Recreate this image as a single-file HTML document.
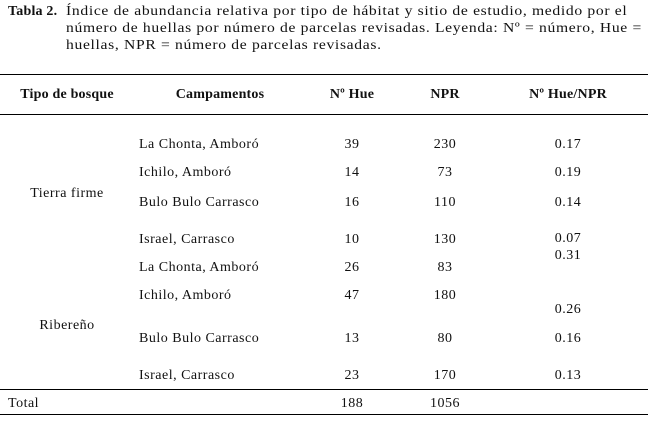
<!DOCTYPE html>
<html><head><meta charset="utf-8"><style>
body{margin:0;width:648px;height:423px;background:#fff;position:relative;font-family:"Liberation Serif",serif;font-size:14px;letter-spacing:0.5px;color:#111;overflow:hidden}
.t{position:absolute;white-space:nowrap;line-height:1}
.c{transform:translateX(-50%)}
.b{font-weight:bold;letter-spacing:0.2px}
.h{letter-spacing:0.6px;transform:scaleX(1.115);transform-origin:0 0}
.l{position:absolute;left:0;width:648px;height:1px;background:#000}
</style></head><body>
<div class="t b" style="left:8px;top:5px">Tabla 2.</div>
<div class="t h" style="left:66px;top:5px">Índice de abundancia relativa por tipo de hábitat y sitio de estudio, medido por el</div>
<div class="t h" style="left:66px;top:22px">número de huellas por número de parcelas revisadas. Leyenda: Nº = número, Hue =</div>
<div class="t h" style="left:66px;top:39px">huellas, NPR = número de parcelas revisadas.</div>
<div class="l" style="top:74px"></div>
<div class="t b c" style="left:67px;top:88px">Tipo de bosque</div>
<div class="t b c" style="left:220px;top:88px">Campamentos</div>
<div class="t b c" style="left:352px;top:88px">Nº Hue</div>
<div class="t b c" style="left:445px;top:88px">NPR</div>
<div class="t b c" style="left:568px;top:88px">Nº Hue/NPR</div>
<div class="l" style="top:114px"></div>
<div class="t c" style="left:67px;top:187px">Tierra firme</div>
<div class="t c" style="left:67px;top:319px">Ribereño</div>

<div class="t" style="left:139px;top:138px">La Chonta, Amboró</div>
<div class="t c" style="left:352px;top:138px">39</div><div class="t c" style="left:445px;top:138px">230</div><div class="t c" style="left:568px;top:138px">0.17</div>
<div class="t" style="left:139px;top:166px">Ichilo, Amboró</div>
<div class="t c" style="left:352px;top:166px">14</div><div class="t c" style="left:445px;top:166px">73</div><div class="t c" style="left:568px;top:166px">0.19</div>
<div class="t" style="left:139px;top:196px">Bulo Bulo Carrasco</div>
<div class="t c" style="left:352px;top:196px">16</div><div class="t c" style="left:445px;top:196px">110</div><div class="t c" style="left:568px;top:196px">0.14</div>
<div class="t" style="left:139px;top:233px">Israel, Carrasco</div>
<div class="t c" style="left:352px;top:233px">10</div><div class="t c" style="left:445px;top:233px">130</div><div class="t c" style="left:568px;top:232px">0.07</div>
<div class="t" style="left:139px;top:261px">La Chonta, Amboró</div>
<div class="t c" style="left:352px;top:261px">26</div><div class="t c" style="left:445px;top:261px">83</div><div class="t c" style="left:568px;top:249px">0.31</div>
<div class="t" style="left:139px;top:289px">Ichilo, Amboró</div>
<div class="t c" style="left:352px;top:289px">47</div><div class="t c" style="left:445px;top:289px">180</div><div class="t c" style="left:568px;top:303px">0.26</div>
<div class="t" style="left:139px;top:332px">Bulo Bulo Carrasco</div>
<div class="t c" style="left:352px;top:332px">13</div><div class="t c" style="left:445px;top:332px">80</div><div class="t c" style="left:568px;top:332px">0.16</div>
<div class="t" style="left:139px;top:369px">Israel, Carrasco</div>
<div class="t c" style="left:352px;top:369px">23</div><div class="t c" style="left:445px;top:369px">170</div><div class="t c" style="left:568px;top:369px">0.13</div>
<div class="l" style="top:389px"></div>
<div class="t" style="left:8px;top:397px">Total</div>
<div class="t c" style="left:352px;top:397px">188</div><div class="t c" style="left:445px;top:397px">1056</div>
<div class="l" style="top:414px"></div>
</body></html>
